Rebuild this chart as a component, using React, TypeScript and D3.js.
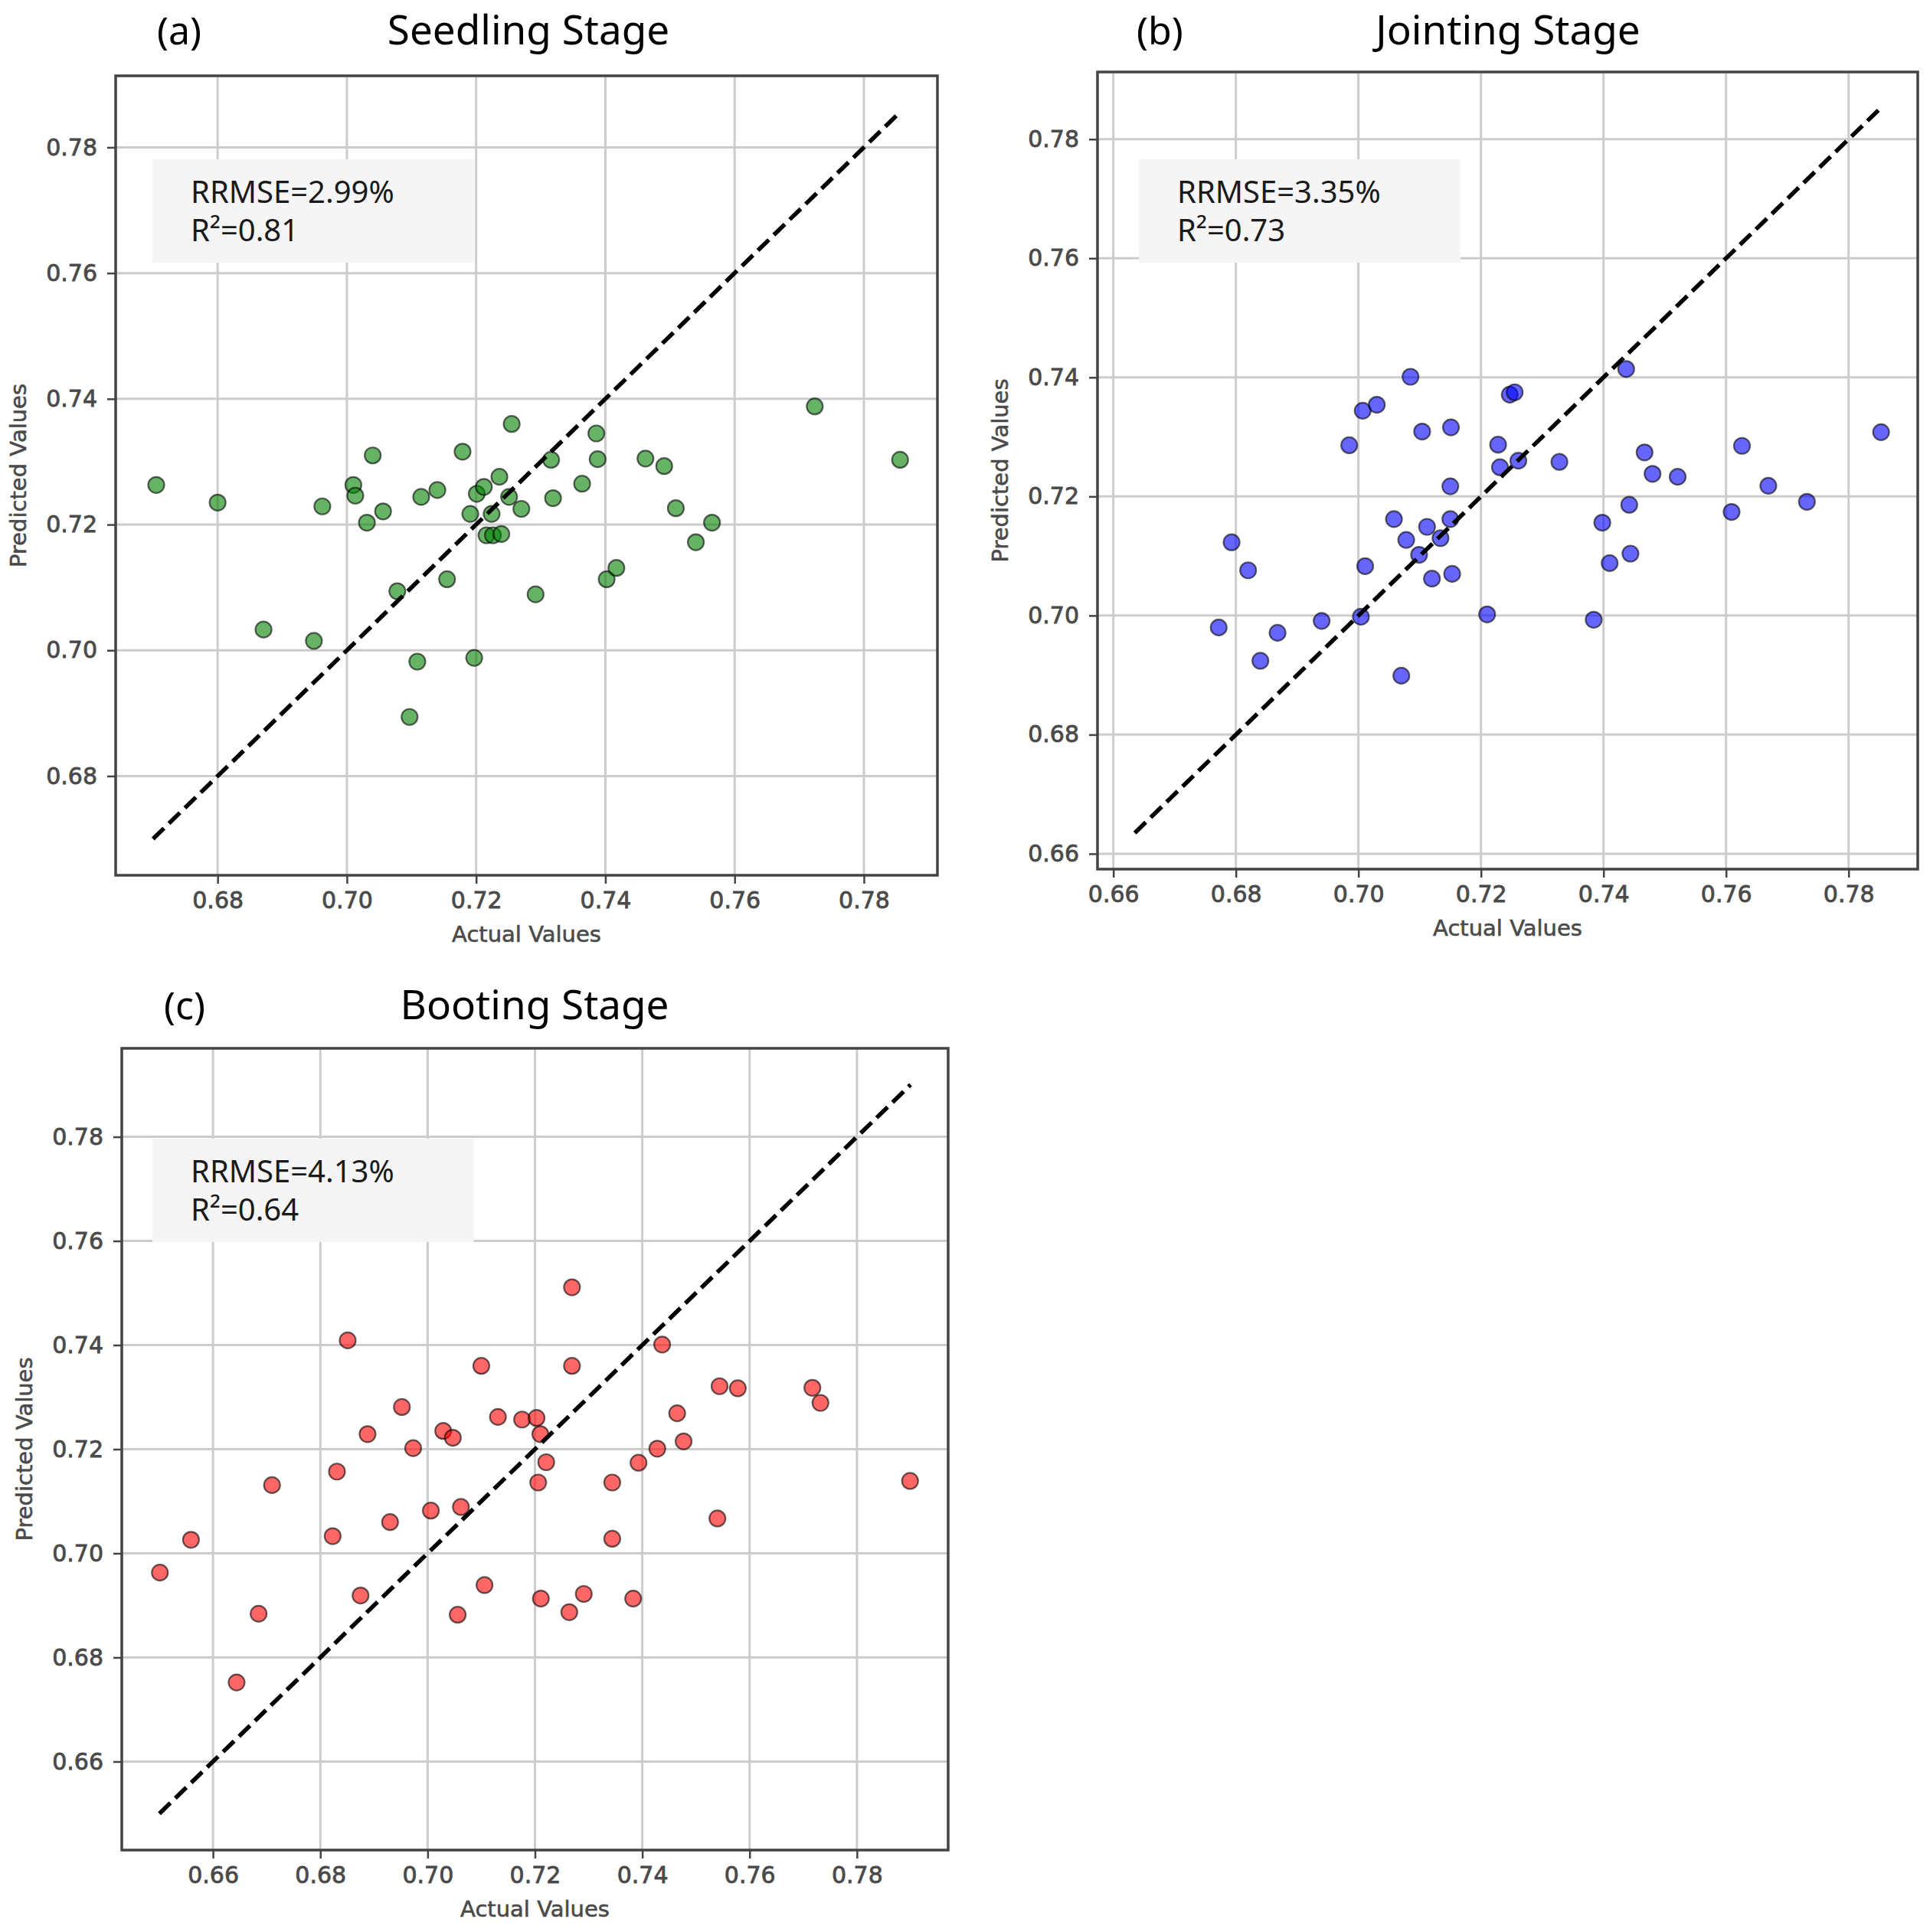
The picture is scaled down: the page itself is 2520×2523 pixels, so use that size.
import React, { useRef, useEffect } from 'react';
import * as d3 from 'd3';

// Seedling stage (a)
const seedlingActual = [0.6705, 0.6800, 0.6871, 0.6949, 0.6962, 0.7010, 0.7013, 0.7031, 0.7040, 0.7056, 0.7078, 0.7097, 0.7109, 0.7115, 0.7140, 0.7155, 0.7179, 0.7191, 0.7197, 0.7201, 0.7212, 0.7216, 0.7224, 0.7226, 0.7236, 0.7239, 0.7251, 0.7255, 0.7270, 0.7292, 0.7316, 0.7319, 0.7364, 0.7386, 0.7388, 0.7402, 0.7417, 0.7462, 0.7491, 0.7509, 0.7540, 0.7565, 0.7724, 0.7856];
const seedlingPredicted = [0.7263, 0.7235, 0.7033, 0.7015, 0.7229, 0.7263, 0.7246, 0.7203, 0.7310, 0.7221, 0.7094, 0.6894, 0.6982, 0.7244, 0.7255, 0.7113, 0.7316, 0.7217, 0.6988, 0.7249, 0.7260, 0.7183, 0.7217, 0.7183, 0.7276, 0.7185, 0.7244, 0.7360, 0.7225, 0.7089, 0.7303, 0.7242, 0.7265, 0.7345, 0.7304, 0.7113, 0.7131, 0.7305, 0.7293, 0.7226, 0.7172, 0.7203, 0.7388, 0.7303];
const seedlingDiag = [0.670, 0.7856];
const seedlingStats = ['RRMSE=2.99%', 'R\u00b2=0.81'];

// Jointing stage (b)
const jointingActual = [0.6772, 0.6793, 0.6820, 0.6840, 0.6868, 0.6940, 0.6985, 0.7004, 0.7007, 0.7011, 0.7030, 0.7058, 0.7070, 0.7078, 0.7085, 0.7099, 0.7104, 0.7112, 0.7120, 0.7134, 0.7151, 0.7150, 0.7150, 0.7153, 0.7210, 0.7228, 0.7231, 0.7247, 0.7255, 0.7261, 0.7328, 0.7384, 0.7398, 0.7410, 0.7437, 0.7442, 0.7444, 0.7467, 0.7480, 0.7521, 0.7609, 0.7626, 0.7669, 0.7732, 0.7853];
const jointingPredicted = [0.6980, 0.7123, 0.7076, 0.6924, 0.6971, 0.6991, 0.7286, 0.6998, 0.7344, 0.7083, 0.7354, 0.7162, 0.6899, 0.7127, 0.7401, 0.7102, 0.7309, 0.7149, 0.7062, 0.7130, 0.7316, 0.7217, 0.7162, 0.7070, 0.7002, 0.7287, 0.7249, 0.7371, 0.7375, 0.7260, 0.7258, 0.6993, 0.7156, 0.7088, 0.7414, 0.7186, 0.7104, 0.7274, 0.7238, 0.7233, 0.7174, 0.7285, 0.7218, 0.7191, 0.7308];
const jointingDiag = [0.6635, 0.7852];
const jointingStats = ['RRMSE=3.35%', 'R\u00b2=0.73'];

// Booting stage (c)
const bootingActual = [0.6501, 0.6559, 0.6644, 0.6685, 0.6710, 0.6823, 0.6831, 0.6851, 0.6875, 0.6888, 0.6930, 0.6952, 0.6973, 0.7006, 0.7029, 0.7047, 0.7056, 0.7062, 0.7100, 0.7106, 0.7131, 0.7176, 0.7203, 0.7210, 0.7206, 0.7211, 0.7221, 0.7264, 0.7269, 0.7269, 0.7291, 0.7344, 0.7344, 0.7383, 0.7393, 0.7428, 0.7437, 0.7465, 0.7477, 0.7540, 0.7544, 0.7578, 0.7717, 0.7732, 0.7899];
const bootingPredicted = [0.6963, 0.7026, 0.6752, 0.6884, 0.7131, 0.7033, 0.7157, 0.7409, 0.6919, 0.7229, 0.7060, 0.7281, 0.7202, 0.7082, 0.7235, 0.7222, 0.6882, 0.7089, 0.7360, 0.6939, 0.7262, 0.7257, 0.7260, 0.7229, 0.7136, 0.6913, 0.7175, 0.6887, 0.7511, 0.7360, 0.6922, 0.7136, 0.7028, 0.6913, 0.7174, 0.7201, 0.7401, 0.7269, 0.7215, 0.7067, 0.7321, 0.7317, 0.7318, 0.7289, 0.7139];
const bootingDiag = [0.650, 0.790];
const bootingStats = ['RRMSE=4.13%', 'R\u00b2=0.64'];

const ticksSeedling = [0.68, 0.70, 0.72, 0.74, 0.76, 0.78];
const ticksOther = [0.66, 0.68, 0.70, 0.72, 0.74, 0.76, 0.78];

interface Panel {
    tag: string;
    title: string;
    actual: number[];
    predicted: number[];
    diag: number[];
    stats: string[];
    ticks: number[];
    color: string;
    frame: { x0: number; x1: number; y0: number; y1: number };
    tagX: number;
    titleX: number;
    titleY: number;
    boxX: number;
    boxY: number;
}

const panels: Panel[] = [
    {
        tag: '(a)', title: 'Seedling Stage', actual: seedlingActual, predicted: seedlingPredicted,
        diag: seedlingDiag, stats: seedlingStats, ticks: ticksSeedling, color: '#008000',
        frame: { x0: 151, x1: 1224, y0: 99, y1: 1143 }, tagX: 205, titleX: 690, titleY: 58, boxX: 199, boxY: 208,
    },
    {
        tag: '(b)', title: 'Jointing Stage', actual: jointingActual, predicted: jointingPredicted,
        diag: jointingDiag, stats: jointingStats, ticks: ticksOther, color: '#0000ff',
        frame: { x0: 1433, x1: 2504, y0: 94, y1: 1135 }, tagX: 1484, titleX: 1969, titleY: 58, boxX: 1487, boxY: 208,
    },
    {
        tag: '(c)', title: 'Booting Stage', actual: bootingActual, predicted: bootingPredicted,
        diag: bootingDiag, stats: bootingStats, ticks: ticksOther, color: '#ff0000',
        frame: { x0: 159, x1: 1238, y0: 1369, y1: 2416 }, tagX: 214, titleX: 698, titleY: 1331, boxX: 199, boxY: 1487,
    },
];

const WIDTH = 2520;
const HEIGHT = 2523;

export default function App() {
    const svgRef = useRef<SVGSVGElement | null>(null);

    useEffect(() => {
        if (!svgRef.current) return;
        const svg = d3.select(svgRef.current);
        svg.selectAll('*').remove();

        svg.append('rect').attr('width', WIDTH).attr('height', HEIGHT).attr('fill', '#ffffff');

        const fmt = d3.format('.2f');

        panels.forEach(p => {
            const { x0, x1, y0, y1 } = p.frame;
            const lo = p.diag[0];
            const hi = p.diag[1];
            const pad = (hi - lo) * 0.05;

            const x = d3.scaleLinear().domain([lo - pad, hi + pad]).range([x0, x1]);
            const y = d3.scaleLinear().domain([lo - pad, hi + pad]).range([y1, y0]);

            const g = svg.append('g');

            // grid
            g.selectAll('.vgrid')
                .data(p.ticks)
                .enter().append('line')
                .attr('x1', d => x(d)).attr('x2', d => x(d))
                .attr('y1', y0).attr('y2', y1)
                .attr('stroke', '#cccccc').attr('stroke-width', 3);
            g.selectAll('.hgrid')
                .data(p.ticks)
                .enter().append('line')
                .attr('y1', d => y(d)).attr('y2', d => y(d))
                .attr('x1', x0).attr('x2', x1)
                .attr('stroke', '#cccccc').attr('stroke-width', 3);

            // stats box
            g.append('rect')
                .attr('x', p.boxX).attr('y', p.boxY)
                .attr('width', 420).attr('height', 135)
                .attr('fill', '#f5f5f5');
            p.stats.forEach((s, i) => {
                g.append('text')
                    .attr('x', p.boxX + 50)
                    .attr('y', p.boxY + 57 + i * 50)
                    .attr('font-family', '"Noto Sans", sans-serif')
                    .attr('font-size', 40)
                    .attr('fill', '#1a1a1a')
                    .text(s);
            });

            // points
            g.selectAll('.pt')
                .data(p.actual.map((a, i) => [a, p.predicted[i]]))
                .enter().append('circle')
                .attr('cx', d => x(d[0]))
                .attr('cy', d => y(d[1]))
                .attr('r', 10.5)
                .attr('fill', p.color).attr('fill-opacity', 0.6)
                .attr('stroke', '#000').attr('stroke-opacity', 0.6).attr('stroke-width', 2.2);

            // 1:1 line
            g.append('line')
                .attr('x1', x(lo)).attr('y1', y(lo))
                .attr('x2', x(hi)).attr('y2', y(hi))
                .attr('stroke', '#000').attr('stroke-width', 5.5)
                .attr('stroke-dasharray', '20 9');

            // frame
            g.append('rect')
                .attr('x', x0).attr('y', y0)
                .attr('width', x1 - x0).attr('height', y1 - y0)
                .attr('fill', 'none').attr('stroke', '#444').attr('stroke-width', 3.5);

            // axes
            const xAxis = g.append('g')
                .attr('transform', `translate(0,${y1})`)
                .call(d3.axisBottom(x).tickValues(p.ticks).tickFormat(d => fmt(d as number)).tickSize(11).tickPadding(11));
            const yAxis = g.append('g')
                .attr('transform', `translate(${x0},0)`)
                .call(d3.axisLeft(y).tickValues(p.ticks).tickFormat(d => fmt(d as number)).tickSize(11).tickPadding(13));
            [xAxis, yAxis].forEach(ax => {
                ax.select('.domain').remove();
                ax.selectAll('line').attr('stroke', '#444').attr('stroke-width', 2.5);
                ax.selectAll('text')
                    .attr('fill', '#4a4a4a')
                    .attr('stroke', '#4a4a4a')
                    .attr('stroke-width', 0.8)
                    .attr('font-family', '"DejaVu Sans", sans-serif')
                    .attr('font-size', 30);
            });

            // axis labels
            g.append('text')
                .attr('x', (x0 + x1) / 2).attr('y', y1 + 87)
                .attr('text-anchor', 'middle')
                .attr('font-family', '"DejaVu Sans", sans-serif')
                .attr('font-size', 29).attr('fill', '#4a4a4a')
                .attr('stroke', '#4a4a4a').attr('stroke-width', 0.6)
                .text('Actual Values');
            g.append('text')
                .attr('transform', `translate(${x0 - 117},${(y0 + y1) / 2}) rotate(-90)`)
                .attr('text-anchor', 'middle')
                .attr('font-family', '"DejaVu Sans", sans-serif')
                .attr('font-size', 29).attr('fill', '#4a4a4a')
                .attr('stroke', '#4a4a4a').attr('stroke-width', 0.6)
                .text('Predicted Values');

            // titles
            g.append('text')
                .attr('x', p.tagX).attr('y', p.titleY)
                .attr('font-family', '"Noto Sans", sans-serif')
                .attr('font-size', 50).attr('fill', '#000')
                .text(p.tag);
            g.append('text')
                .attr('x', p.titleX).attr('y', p.titleY)
                .attr('text-anchor', 'middle')
                .attr('font-family', '"Noto Sans", sans-serif')
                .attr('font-size', 53).attr('fill', '#000')
                .text(p.title);
        });
    }, []);

    return (
        <svg
            ref={svgRef}
            width={WIDTH}
            height={HEIGHT}
            style={{ position: 'absolute', left: 0, top: 0, display: 'block' }}
        />
    );
}
